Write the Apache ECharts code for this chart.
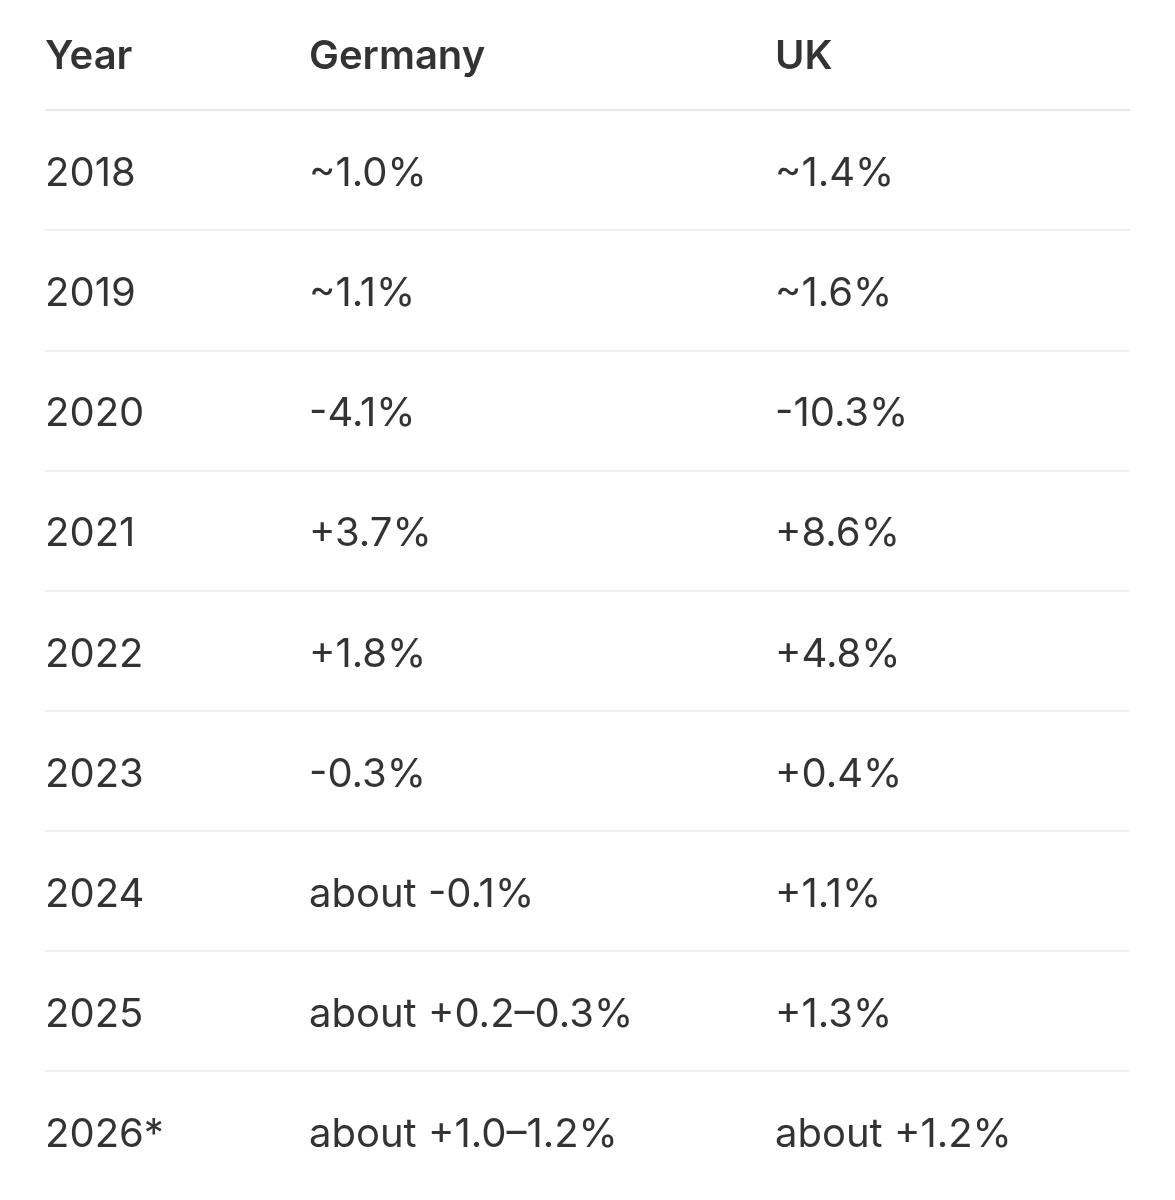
<!DOCTYPE html>
<html>
<head>
<meta charset="utf-8">
<title>Germany vs UK GDP growth</title>
<script src="https://cdn.jsdelivr.net/npm/echarts@6/dist/echarts.min.js"></script>
<style>
  html, body { margin: 0; padding: 0; background: #fff; }
  #chart { width: 1175px; height: 1200px; }
</style>
</head>
<body>
<div id="chart"></div>
<script>
// table contents
const headers = ['Year', 'Germany', 'UK'];
const years = ['2018', '2019', '2020', '2021', '2022', '2023', '2024', '2025', '2026*'];
const germany = ['~1.0%', '~1.1%', '-4.1%', '+3.7%', '+1.8%', '-0.3%', 'about -0.1%', 'about +0.2\u20130.3%', 'about +1.0\u20131.2%'];
const uk = ['~1.4%', '~1.6%', '-10.3%', '+8.6%', '+4.8%', '+0.4%', '+1.1%', '+1.3%', 'about +1.2%'];

// layout: left edge of each column on the hidden x axis
const colStart = [0, 264, 730];
const rows = ['header'].concat(years);
const columns = [years, germany, uk];

const chart = echarts.init(document.getElementById('chart'));

const textStyle = {
    fontFamily: 'Inter, "Noto Sans", sans-serif',
    fontSize: 40,
    color: '#000'
};

const headerSeries = {
    type: 'scatter',
    symbolSize: 0,
    silent: true,
    data: headers.map((h, i) => ({ value: [colStart[i], 'header'], name: h })),
    label: {
        show: true,
        position: 'right',
        distance: 0,
        offset: [0, 7],
        formatter: p => p.name,
        ...textStyle,
        fontWeight: 600
    }
};

const bodySeries = columns.map((col, c) => ({
    type: 'scatter',
    symbolSize: 0,
    silent: true,
    data: col.map((txt, r) => ({ value: [colStart[c], years[r]], name: txt })),
    label: {
        show: true,
        position: 'right',
        distance: 0,
        offset: [0, 4],
        formatter: p => p.name,
        ...textStyle
    }
}));

// separator colours: none above header, darker under header, light between rows, none at bottom
const lineColors = ['rgba(0,0,0,0)', '#dedede'];
for (let i = 1; i < years.length; i++) lineColors.push('#ebebeb');
lineColors.push('rgba(0,0,0,0)');

chart.setOption({
    animation: false,
    backgroundColor: '#fff',
    grid: { left: 45, right: 45, top: -10, height: 1201, outerBoundsMode: 'none', containLabel: false },
    xAxis: {
        type: 'value',
        min: 0,
        max: 1085,
        show: false
    },
    yAxis: {
        type: 'category',
        data: rows,
        inverse: true,
        boundaryGap: true,
        axisLine: { show: false },
        axisTick: { show: false },
        axisLabel: { show: false },
        splitLine: {
            show: true,
            lineStyle: { color: lineColors, width: 1.5 }
        }
    },
    series: [headerSeries].concat(bodySeries)
});

window.onresize = () => chart.resize();
</script>
</body>
</html>
